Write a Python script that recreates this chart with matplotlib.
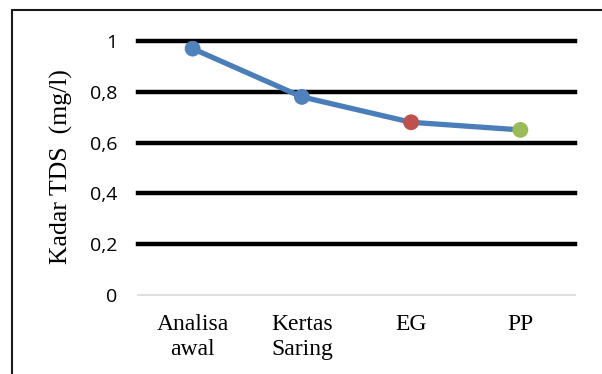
import matplotlib
matplotlib.use("Agg")
import matplotlib.pyplot as plt
from matplotlib.patches import Rectangle

categories = ["Analisa\nawal", "Kertas\nSaring", "EG", "PP"]
tds_values = [0.97, 0.78, 0.68, 0.65]
marker_colors = ["#4f81bd", "#4f81bd", "#c0504d", "#9bbb59"]
y_ticks = [0, 0.2, 0.4, 0.6, 0.8, 1.0]
y_tick_labels = ["0", "0,2", "0,4", "0,6", "0,8", "1"]

W, H = 602, 374
fig = plt.figure(figsize=(W / 100, H / 100), dpi=100)
ax = fig.add_axes([138 / W, 1 - 295 / H, (575 - 138) / W, (295 - 41) / H])

x = list(range(len(categories)))
ax.set_xlim(-0.5, len(categories) - 0.5)
ax.set_ylim(0, 1)

# horizontal gridlines
for t in y_ticks[1:]:
    ax.axhline(t, color="black", lw=3.2, zorder=1, clip_on=False)
ax.axhline(0, color="#d9d9d9", lw=1.2, zorder=1, clip_on=False)

ax.plot(x, tds_values, color="#4a7ebb", lw=3.8, zorder=3, solid_capstyle="round")
ax.scatter(x, tds_values, s=130, c=marker_colors, zorder=4, linewidths=0)

for s in ax.spines.values():
    s.set_visible(False)
ax.tick_params(length=0)
ax.set_yticks(y_ticks)
ax.set_yticklabels(y_tick_labels, fontfamily="Open Sans", fontsize=14)
ax.tick_params(axis="y", pad=15)
ax.set_xticks(x)
ax.set_xticklabels(categories, fontfamily="Liberation Serif", fontsize=17,
                   linespacing=1.2)
ax.tick_params(axis="x", pad=14)

fig.text(61 / W, 1 - 167 / H, "Kadar TDS  (mg/l)", rotation=90,
         fontfamily="Liberation Serif", fontsize=18.5, ha="center", va="center")

# outer frame
fig.patches.append(Rectangle((12 / W, -0.1), 1.2, 1 - 10 / H + 0.1,
                             transform=fig.transFigure, fill=False,
                             edgecolor="#1a1a1a", lw=1.5))

fig.savefig("out.png", dpi=100)
